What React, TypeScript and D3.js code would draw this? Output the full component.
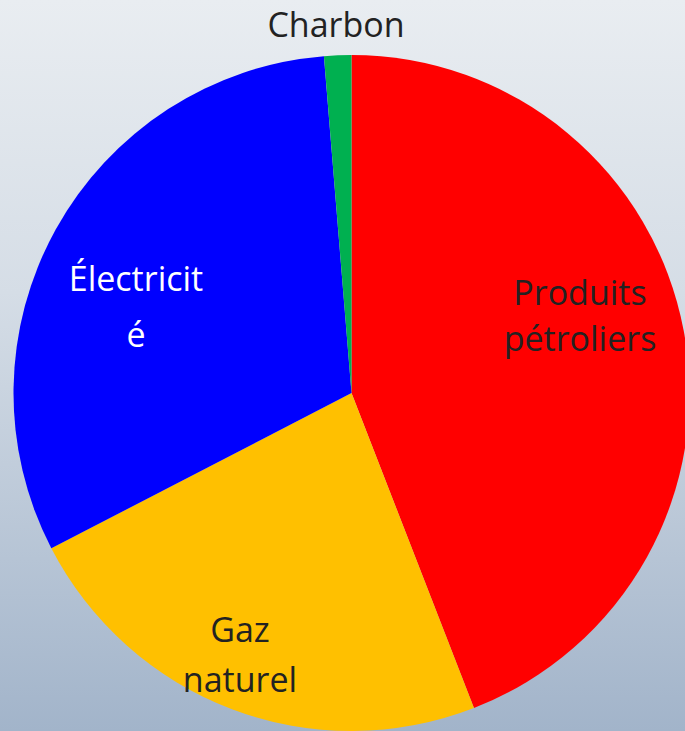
import React, { useRef, useEffect } from "react";
import * as d3 from "d3";

const categories = ["Produits pétroliers", "Gaz naturel", "Électricité", "Charbon"];
const values = [44.1, 23.3, 31.3, 1.3];
const colors = ["#ff0000", "#ffc000", "#0000ff", "#00b050"];
// label lines as they wrap in the original
const labelLines = [["Produits", "pétroliers"], ["Gaz", "naturel"], ["Électricit", "é"], ["Charbon"]];
const labelColors = ["#222222", "#222222", "#ffffff", "#222222"];

const App = () => {
  const svgRef = useRef<SVGSVGElement>(null);

  useEffect(() => {
    const svg = d3.select(svgRef.current);
    svg.selectAll("*").remove();

    const width = 685;
    const height = 731;
    const cx = 351.5;
    const cy = 393;
    const radius = 338;

    const defs = svg.append("defs");
    const grad = defs.append("linearGradient")
      .attr("id", "bg")
      .attr("x1", 0).attr("y1", 0)
      .attr("x2", 0).attr("y2", 1);
    grad.append("stop").attr("offset", "0%").attr("stop-color", "#e9edf1");
    grad.append("stop").attr("offset", "40%").attr("stop-color", "#d5dde6");
    grad.append("stop").attr("offset", "100%").attr("stop-color", "#a2b4ca");

    svg.append("rect")
      .attr("width", width)
      .attr("height", height)
      .attr("fill", "url(#bg)");

    const pie = d3.pie<number>().sort(null).value(d => d);
    const arc = d3.arc<d3.PieArcDatum<number>>().innerRadius(0).outerRadius(radius);

    const g = svg.append("g").attr("transform", `translate(${cx},${cy})`);

    g.selectAll("path")
      .data(pie(values))
      .enter()
      .append("path")
      .attr("d", arc)
      .attr("fill", (d, i) => colors[i]);

    // label anchor positions (center of first line baseline) and line spacing
    const labelPos = [
      { x: 580, y: 305, dy: 46 },
      { x: 240, y: 642, dy: 50 },
      { x: 136, y: 291, dy: 56 },
      { x: 336, y: 37, dy: 0 },
    ];

    categories.forEach((cat, i) => {
      const t = svg.append("text")
        .attr("text-anchor", "middle")
        .attr("fill", labelColors[i])
        .style("font-family", "'Open Sans', 'Noto Sans', sans-serif")
        .style("font-size", "34px");
      labelLines[i].forEach((line, j) => {
        t.append("tspan")
          .attr("x", labelPos[i].x)
          .attr("y", labelPos[i].y + j * labelPos[i].dy)
          .text(line);
      });
    });
  }, []);

  return (
    <svg
      ref={svgRef}
      width={685}
      height={731}
      style={{ position: "absolute", left: 0, top: 0, display: "block" }}
    ></svg>
  );
};

export default App;
